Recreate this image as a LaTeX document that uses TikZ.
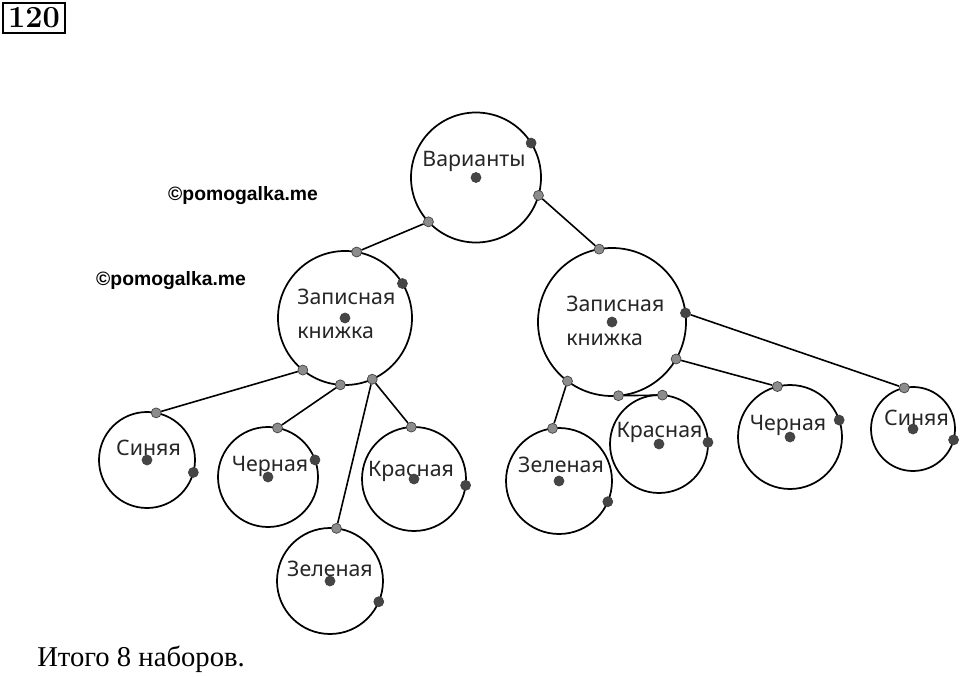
\documentclass[tikz,border=0pt]{standalone}
\usepackage{fontspec}
\newfontfamily\lblfont{Noto Sans}
\newfontfamily\wmfont{Liberation Sans}
\newfontfamily\serfont{Liberation Serif}
\usetikzlibrary{positioning}
\definecolor{ptgray}{HTML}{8C8C8C}
\definecolor{ptdark}{HTML}{454545}

\begin{document}
\begin{tikzpicture}[x=0.75pt, y=-0.75pt,
    opt/.style={draw, circle, line width=1.3pt, inner sep=0pt, outer sep=0pt},
    gpt/.style={draw=black!75, circle, fill=ptgray, line width=0.5pt, inner sep=0pt, minimum size=7.5pt},
    dpt/.style={draw=black!75, circle, fill=ptdark, line width=0.5pt, inner sep=0pt, minimum size=7.5pt},
    lbl/.style={font=\lblfont\fontsize{16}{25}\selectfont, text=black!85, inner sep=0pt, text height=11.5pt, text depth=0pt},
    edge/.style={line width=1.2pt}]
\useasboundingbox (0,0) rectangle (960,677);

% number of the task
\node[draw, line width=1.6pt, inner sep=0pt, minimum width=46.5pt, minimum height=22.5pt, font=\bfseries\fontsize{23}{23}\selectfont] (num) at (34,18) {120};

% circles
\node[opt, minimum size=97.5pt] (var) at (476,177.5) {};
\node[opt, minimum size=100.5pt] (zkL) at (345,318) {};
\node[opt, minimum size=111pt] (zkR) at (612,322) {};
\node[opt, minimum size=72pt] (sinL) at (147,460) {};
\node[opt, minimum size=75pt] (cherL) at (268,477) {};
\node[opt, minimum size=78pt] (krL) at (414,479) {};
\node[opt, minimum size=79.5pt] (zelL) at (330,581) {};
\node[opt, minimum size=79.5pt] (zelR) at (559,481) {};
\node[opt, minimum size=73.5pt] (krR) at (659,444) {};
\node[opt, minimum size=78pt] (cherR) at (790,437) {};
\node[opt, minimum size=63pt] (sinR) at (913,429) {};

% labels
\node[lbl] (varT) at (474,159) {Варианты};
\node[lbl, align=left, anchor=north west, text height=, text depth=] (zkLT) at (297,289) {Записная\\книжка};
\node[lbl, align=left, anchor=north west, text height=, text depth=] (zkRT) at (566,296) {Записная\\книжка};
\node[lbl] (sinLT) at (148.5,448) {Синяя};
\node[lbl] (cherLT) at (270,464) {Черная};
\node[lbl] (krLT) at (411,469) {Красная};
\node[lbl] (zelLT) at (330,569) {Зеленая};
\node[lbl] (zelRT) at (561,465) {Зеленая};
\node[lbl] (krRT) at (659.5,430) {Красная};
\node[lbl] (cherRT) at (788,423) {Черная};
\node[lbl] (sinRT) at (916.5,418) {Синяя};

% centre points
\foreach \c in {var,zkL,zkR,sinL,cherL,krL,zelL,zelR,krR,cherR,sinR}
    \node[dpt] (\c c) at (\c.center) {};

% points on the circles
\node[dpt] (varD) at (var.32) {};
\node[gpt] (varR) at (var.344) {};
\node[gpt] (varL) at (var.223) {};
\node[gpt] (zkLtop) at (zkL.80.5) {};
\node[dpt] (zkLD) at (zkL.31) {};
\node[gpt] (zkL1) at (zkL.231) {};
\node[gpt] (zkL2) at (zkL.266) {};
\node[gpt] (zkL3) at (zkL.294) {};
\node[gpt] (zkRtop) at (zkR.100) {};
\node[dpt] (zkRD) at (zkR.7) {};
\node[gpt] (zkR1) at (zkR.233) {};
\node[gpt] (zkR2) at (zkR.275.5) {};
\node[gpt] (zkR3) at (zkR.330) {};
\node[gpt] (sinLtop) at (sinL.79) {};
\node[dpt] (sinLD) at (sinL.345) {};
\node[gpt] (cherLtop) at (cherL.79.6) {};
\node[dpt] (cherLD) at (cherL.20) {};
\node[gpt] (krLtop) at (krL.93.4) {};
\node[dpt] (krLD) at (krL.353) {};
\node[gpt] (zelLtop) at (zelL.83.5) {};
\node[dpt] (zelLD) at (zelL.337) {};
\node[gpt] (zelRtop) at (zelR.97.7) {};
\node[dpt] (zelRD) at (zelR.337) {};
\node[gpt] (krRtop) at (krR.86.5) {};
\node[dpt] (krRD) at (krR.2.3) {};
\node[gpt] (cherRtop) at (cherR.104.6) {};
\node[dpt] (cherRD) at (cherR.19.5) {};
\node[gpt] (sinRtop) at (sinR.102.7) {};
\node[dpt] (sinRD) at (sinR.345) {};

% edges
\draw[edge] (varL) -- (zkLtop);
\draw[edge] (varR) -- (zkRtop);
\draw[edge] (zkL1) -- (sinLtop);
\draw[edge] (zkL2) -- (cherLtop);
\draw[edge] (zkL3) -- (krLtop);
\draw[edge] (zkL3) -- (zelLtop);
\draw[edge] (zkR1) -- (zelRtop);
\draw[edge] (zkR2) -- (krRtop);
\draw[edge] (zkR3) -- (cherRtop);
\draw[edge] (zkRD) -- (sinRtop);

% watermarks and result
\node[font=\wmfont\bfseries\fontsize{14.5}{16}\selectfont, inner sep=0pt] (wm1) at (243,196) {©pomogalka.me};
\node[font=\wmfont\bfseries\fontsize{14.5}{16}\selectfont, inner sep=0pt] (wm2) at (171,281) {©pomogalka.me};
\node[font=\serfont\fontsize{21.5}{24}\selectfont, anchor=base west, inner sep=0pt] (total) at (37,666) {Итого 8 наборов.};
\end{tikzpicture}
\end{document}
